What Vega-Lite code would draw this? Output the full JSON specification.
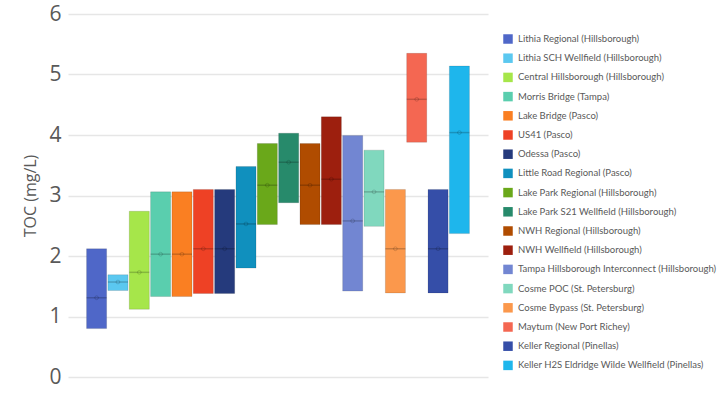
{
  "$schema": "https://vega.github.io/schema/vega-lite/v6.json",
  "width": 420,
  "height": 363,
  "autosize": {"type": "none"},
  "padding": {"left": 68, "top": 14, "right": 235, "bottom": 16},
  "background": "white",
  "config": {"view": {"stroke": null}},
  "data": {"values": [
    {"site": "Lithia Regional (Hillsborough)", "min": 0.80, "max": 2.12, "mean": 1.31},
    {"site": "Lithia SCH Wellfield  (Hillsborough)", "min": 1.43, "max": 1.69, "mean": 1.57},
    {"site": "Central Hillsborough (Hillsborough)", "min": 1.12, "max": 2.74, "mean": 1.73},
    {"site": "Morris Bridge (Tampa)", "min": 1.33, "max": 3.06, "mean": 2.03},
    {"site": "Lake Bridge (Pasco)", "min": 1.33, "max": 3.06, "mean": 2.03},
    {"site": "US41 (Pasco)", "min": 1.38, "max": 3.10, "mean": 2.12},
    {"site": "Odessa (Pasco)", "min": 1.38, "max": 3.10, "mean": 2.12},
    {"site": "Little Road Regional (Pasco)", "min": 1.80, "max": 3.48, "mean": 2.53},
    {"site": "Lake Park Regional (Hillsborough)", "min": 2.52, "max": 3.86, "mean": 3.17},
    {"site": "Lake Park S21 Wellfield (Hillsborough)", "min": 2.88, "max": 4.03, "mean": 3.55},
    {"site": "NWH Regional (Hillsborough)", "min": 2.52, "max": 3.86, "mean": 3.17},
    {"site": "NWH Wellfield (Hillsborough)", "min": 2.52, "max": 4.30, "mean": 3.27},
    {"site": "Tampa Hillsborough Interconnect (Hillsborough)", "min": 1.42, "max": 3.99, "mean": 2.58},
    {"site": "Cosme POC (St. Petersburg)", "min": 2.49, "max": 3.75, "mean": 3.06},
    {"site": "Cosme Bypass (St. Petersburg)", "min": 1.39, "max": 3.10, "mean": 2.12},
    {"site": "Maytum (New Port Richey)", "min": 3.88, "max": 5.35, "mean": 4.59},
    {"site": "Keller Regional (Pinellas)", "min": 1.39, "max": 3.10, "mean": 2.12},
    {"site": "Keller H2S Eldridge Wilde Wellfield (Pinellas)", "min": 2.37, "max": 5.14, "mean": 4.04}
  ]},
  "encoding": {
    "x": {"field": "site", "type": "nominal", "sort": null,
      "scale": {"paddingInner": 0.06, "paddingOuter": 0.87}, "axis": null},
    "color": {"field": "site", "type": "nominal", "sort": null,
      "scale": {"range": ["#4F67C8", "#5BC8F0", "#A6E64A", "#5ACEAE", "#FA7F22", "#EE4125", "#253A7C", "#1090BE", "#6AA81A", "#278A6B", "#B04C00", "#9D1F0E", "#7286D2", "#80D8BE", "#FB984C", "#F46752", "#354EA8", "#1EB6EC"]},
      "legend": {"title": null, "orient": "none", "legendX": 435, "legendY": 20,
        "symbolType": "square", "symbolSize": 90, "symbolStrokeWidth": 0,
        "labelFont": "Lato", "labelFontSize": 9.5, "labelColor": "#595959",
        "labelOffset": 5, "rowPadding": 9.2, "labelLimit": 300}}
  },
  "layer": [
    {"mark": {"type": "bar", "stroke": "#000", "strokeOpacity": 0.12, "strokeWidth": 1},
     "encoding": {
       "y": {"field": "min", "type": "quantitative",
         "scale": {"domain": [0, 6], "nice": false},
         "axis": {"title": "TOC (mg/L)", "values": [0, 1, 2, 3, 4, 5, 6], "format": "d",
           "domain": false, "ticks": false, "tickSize": 0, "labelPadding": 7,
           "labelFont": "Open Sans", "labelFontSize": 21, "labelColor": "#595959",
           "titleFont": "Open Sans", "titleFontSize": 16, "titleFontWeight": "normal",
           "titleColor": "#595959", "titlePadding": 10,
           "gridColor": "#E6E6E6", "gridWidth": 1.5}},
       "y2": {"field": "max"}
     }},
    {"mark": {"type": "tick", "color": "#000", "opacity": 0.2, "thickness": 1.5},
     "encoding": {"y": {"field": "mean", "type": "quantitative"}, "color": {"value": "#000"}}},
    {"mark": {"type": "point", "filled": false, "stroke": "#000", "strokeOpacity": 0.2, "size": 14, "strokeWidth": 1},
     "encoding": {"y": {"field": "mean", "type": "quantitative"}, "color": {"value": "#000"}}}
  ]
}
